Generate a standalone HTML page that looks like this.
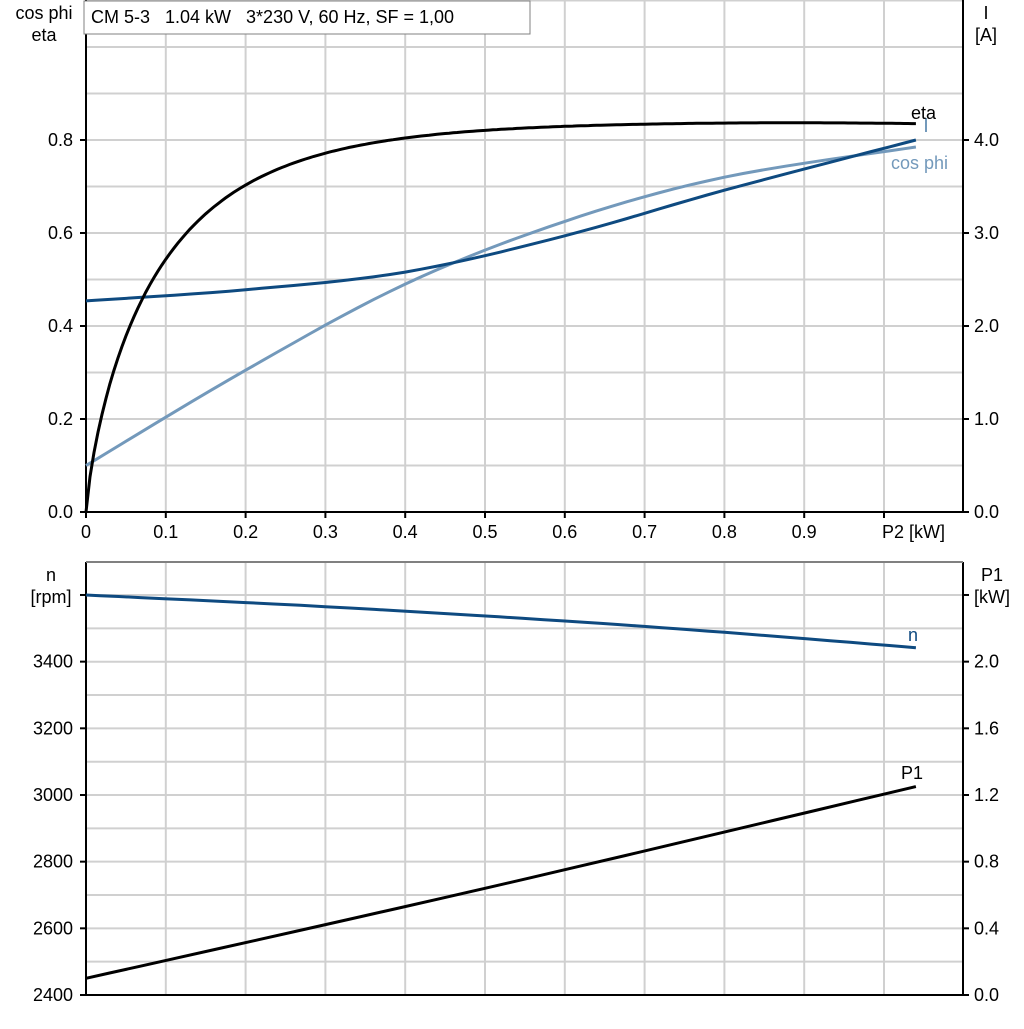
<!DOCTYPE html>
<html><head><style>
body{margin:0;background:#fff}
svg text{font-family:"Liberation Sans",Arial,sans-serif;font-size:18px;white-space:pre}
</style></head><body>
<svg id="s" width="1024" height="1024" xmlns="http://www.w3.org/2000/svg">
<g id="grid" stroke="#d0d0d0" stroke-width="2"></g>
<g id="axes"></g>
<g id="curves" fill="none" stroke-width="3"></g>
<rect x="84" y="1" width="446" height="33" fill="#fff" stroke="#808080" stroke-width="1"/>
<text x="91" y="23" xml:space="preserve">CM 5-3   1.04 kW   3*230 V, 60 Hz, SF = 1,00</text>
<text x="44" y="19" text-anchor="middle">cos phi</text>
<text x="44" y="41" text-anchor="middle">eta</text>
<text x="986" y="19" text-anchor="middle">I</text>
<text x="986" y="41" text-anchor="middle">[A]</text>
<text x="51" y="581" text-anchor="middle">n</text>
<text x="51" y="603" text-anchor="middle">[rpm]</text>
<text x="992" y="581" text-anchor="middle">P1</text>
<text x="992" y="603" text-anchor="middle">[kW]</text>
<text x="911" y="119">eta</text>
<text x="891" y="169" fill="#7399bb">cos phi</text>
<text x="908" y="641" fill="#0e4a80">n</text>
<text x="901" y="779">P1</text>
<text x="882" y="538">P2 [kW]</text>
</svg>
<script>
const s=document.getElementById('s'),NS='http://www.w3.org/2000/svg';
function el(p,t,a,txt){const e=document.createElementNS(NS,t);for(const k in a)e.setAttribute(k,a[k]);if(txt!==undefined)e.textContent=txt;document.getElementById(p).appendChild(e);return e;}
const X=p=>86+798*p;
for(let i=1;i<=10;i++){el('grid','line',{x1:X(i/10),x2:X(i/10),y1:0,y2:512});el('grid','line',{x1:X(i/10),x2:X(i/10),y1:562,y2:995});}
for(let i=1;i<=11;i++){const y=512-46.5*i;el('grid','line',{x1:86,x2:963,y1:y,y2:y});}
for(let i=1;i<=12;i++){const y=995-33.33*i;el('grid','line',{x1:86,x2:963,y1:y,y2:y});}
const A=(a)=>el('axes','line',Object.assign({stroke:'#000','stroke-width':2},a));
A({x1:86,x2:86,y1:0,y2:513});A({x1:963,x2:963,y1:0,y2:513});A({x1:85,x2:964,y1:512,y2:512});
A({x1:86,x2:86,y1:562,y2:996});A({x1:963,x2:963,y1:562,y2:996});A({x1:85,x2:964,y1:995,y2:995});
el('axes','line',{x1:86,x2:963,y1:562,y2:562,stroke:'#808080','stroke-width':2});
for(let i=0;i<=10;i++){A({x1:X(i/10),x2:X(i/10),y1:512,y2:518});if(i<10)el('axes','text',{x:X(i/10),y:538,'text-anchor':'middle'},i==0?'0':(i/10).toFixed(1));}
for(let i=0;i<=4;i++){const y=512-93*i;A({x1:80,x2:86,y1:y,y2:y});A({x1:963,x2:969,y1:y,y2:y});
 el('axes','text',{x:73,y:y+6,'text-anchor':'end'},(i*0.2).toFixed(1));el('axes','text',{x:974,y:y+6},(i*1).toFixed(1));}
for(let i=0;i<=6;i++){const y=995-66.67*i;A({x1:80,x2:86,y1:y,y2:y});A({x1:963,x2:969,y1:y,y2:y});
 if(i<6){el('axes','text',{x:73,y:y+6,'text-anchor':'end'},String(2400+200*i));el('axes','text',{x:974,y:y+6},(i*0.4).toFixed(1));}}
function curve(pts,fy,col){let d='';pts.forEach((q,i)=>{d+=(i?'L':'M')+X(q[0]).toFixed(1)+','+fy(q[1]).toFixed(1);});el('curves','path',{d:d,stroke:col});}
const T=v=>512-465*v, Ia=v=>512-93*v, N=v=>995-(v-2400)/3, P=v=>995-v*166.7;
function smooth(pts){const out=[];for(let i=0;i<pts.length-1;i++){const p0=pts[Math.max(i-1,0)],p1=pts[i],p2=pts[i+1],p3=pts[Math.min(i+2,pts.length-1)];for(let t=0;t<1;t+=0.1){const t2=t*t,t3=t2*t;const f=(a,b,c,d)=>0.5*((2*b)+(-a+c)*t+(2*a-5*b+4*c-d)*t2+(-a+3*b-3*c+d)*t3);out.push([f(p0[0],p1[0],p2[0],p3[0]),f(p0[1],p1[1],p2[1],p3[1])]);}}out.push(pts[pts.length-1]);return out;}
curve(smooth([[0,0.1],[0.2,0.305],[0.4,0.49],[0.6,0.625],[0.8,0.72],[1.04,0.785]]),T,'#7399bb');
curve(smooth([[0,2.27],[0.2,2.39],[0.4,2.58],[0.6,2.97],[0.8,3.46],[1.04,4.0]]),Ia,'#0e4a80');
const eta=[];for(let i=0;i<=208;i++){const p=i/200;eta.push([p,0.84*(1-Math.exp(-Math.pow(p/0.095,0.8)))-0.03*Math.pow(Math.max(0,p-0.75),2)*1.5]);}
curve(eta,T,'#000');
curve(smooth([[0,3600],[0.3,3565],[0.6,3522],[0.8,3488],[1.04,3442]]),N,'#0e4a80');
curve(smooth([[0,0.1],[0.5,0.64],[1.04,1.25]]),P,'#000');
el('curves','line',{x1:926,x2:926,y1:118,y2:132,stroke:'#7399bb','stroke-width':2});
</script>
</body></html>
